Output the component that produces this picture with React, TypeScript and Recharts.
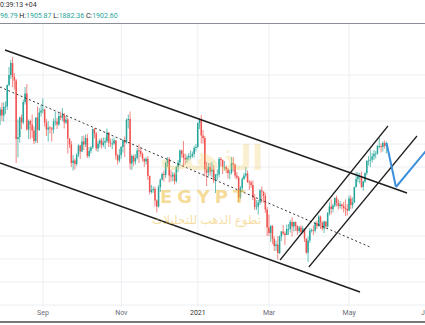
import { ComposedChart, Bar, XAxis, YAxis, CartesianGrid, ReferenceLine } from "recharts";

// daily XAUUSD bars, 29 Jul 2020 .. 1 Jun 2021 (open = previous close)
const firstOpen = 1958;

const closes = [
  // Jul
  1970, 1958, 1975,
  // Aug
  1976, 2019, 2039, 2063, 2035, 2028, 1911, 1915, 1954, 1944, 1985, 2002, 1930, 1947, 1940, 1928, 1907, 1954, 1929, 1964, 1968,
  // Sep
  1970, 1944, 1930, 1934, 1932, 1930, 1946, 1946, 1940, 1957, 1954, 1960, 1944, 1950, 1912, 1900, 1863, 1868, 1861, 1880, 1898, 1886,
  // Oct
  1906, 1900, 1913, 1877, 1887, 1894, 1931, 1922, 1892, 1902, 1908, 1899, 1904, 1907, 1924, 1904, 1902, 1902, 1908, 1878, 1868, 1879,
  // Nov
  1895, 1909, 1904, 1949, 1951, 1862, 1877, 1866, 1873, 1888, 1887, 1881, 1871, 1866, 1871, 1837, 1805, 1809, 1811, 1788, 1776,
  // Dec
  1815, 1830, 1841, 1839, 1863, 1871, 1838, 1836, 1840, 1827, 1855, 1864, 1888, 1881, 1873, 1870, 1874, 1877, 1877, 1881, 1893, 1895,
  // Jan
  1943, 1950, 1918, 1913, 1850, 1844, 1855, 1846, 1850, 1828, 1840, 1840, 1871, 1869, 1855, 1855, 1850, 1843, 1844, 1863,
  // Feb
  1860, 1838, 1834, 1794, 1813, 1831, 1838, 1842, 1825, 1824, 1819, 1794, 1775, 1776, 1784, 1808, 1806, 1797, 1770, 1734,
  // Mar
  1723, 1737, 1711, 1697, 1700, 1683, 1716, 1726, 1722, 1719, 1731, 1731, 1745, 1736, 1745, 1737, 1727, 1734, 1725, 1732, 1712, 1684, 1708,
  // Apr
  1728, 1729, 1728, 1743, 1737, 1756, 1744, 1732, 1746, 1736, 1763, 1776, 1771, 1778, 1793, 1783, 1777, 1780, 1777, 1773, 1771, 1768,
  // May + 1 Jun
  1792, 1779, 1784, 1815, 1831, 1836, 1837, 1815, 1826, 1843, 1867, 1868, 1870, 1876, 1881, 1882, 1897, 1897, 1895, 1903, 1897, 1903,
];

const highs = [
  1975, 1984, 1984,
  1986, 2020, 2055, 2069, 2075, 2043, 2031, 1950, 1956, 1960, 1990, 2015, 2021, 1950, 1950, 1960, 1936, 1954, 1976, 1973, 1979,
  1992, 1972, 1951, 1947, 1937, 1935, 1952, 1965, 1953, 1963, 1966, 1973, 1963, 1957, 1954, 1913, 1907, 1879, 1872, 1882, 1900, 1899,
  1917, 1918, 1920, 1921, 1895, 1897, 1932, 1933, 1925, 1908, 1912, 1913, 1914, 1914, 1932, 1924, 1912, 1912, 1914, 1909, 1881, 1891,
  1897, 1910, 1916, 1952, 1960, 1966, 1880, 1880, 1881, 1893, 1900, 1894, 1884, 1873, 1875, 1877, 1838, 1819, 1816, 1816, 1790,
  1819, 1832, 1844, 1848, 1866, 1875, 1875, 1849, 1845, 1844, 1857, 1869, 1890, 1890, 1907, 1882, 1879, 1883, 1888, 1886, 1897, 1901,
  1944, 1953, 1959, 1929, 1917, 1865, 1863, 1863, 1865, 1859, 1841, 1850, 1875, 1875, 1870, 1867, 1858, 1853, 1850, 1875,
  1875, 1861, 1845, 1837, 1817, 1835, 1843, 1855, 1848, 1829, 1828, 1828, 1801, 1789, 1789, 1811, 1816, 1806, 1803, 1775,
  1760, 1739, 1739, 1716, 1708, 1717, 1718, 1727, 1739, 1726, 1740, 1741, 1749, 1755, 1746, 1746, 1739, 1737, 1739, 1737, 1731, 1712, 1716,
  1733, 1732, 1738, 1746, 1748, 1759, 1758, 1746, 1748, 1746, 1765, 1784, 1790, 1782, 1794, 1798, 1790, 1787, 1782, 1785, 1790, 1781,
  1798, 1798, 1794, 1816, 1845, 1845, 1843, 1846, 1828, 1844, 1869, 1877, 1890, 1883, 1889, 1887, 1899, 1913, 1902, 1906, 1908, 1906,
];

const lows = [
  1939, 1947, 1946,
  1961, 1969, 2016, 2031, 2015, 2010, 1863, 1874, 1904, 1931, 1940, 1980, 1928, 1911, 1911, 1913, 1901, 1903, 1903, 1927, 1956,
  1962, 1936, 1917, 1906, 1922, 1906, 1922, 1938, 1931, 1937, 1949, 1947, 1932, 1941, 1882, 1893, 1855, 1848, 1850, 1857, 1875, 1871,
  1885, 1889, 1895, 1873, 1873, 1882, 1891, 1912, 1887, 1885, 1894, 1892, 1895, 1891, 1903, 1895, 1895, 1891, 1899, 1870, 1860, 1864,
  1872, 1884, 1875, 1902, 1932, 1850, 1849, 1857, 1860, 1870, 1863, 1875, 1866, 1855, 1860, 1829, 1800, 1802, 1803, 1776, 1764,
  1774, 1805, 1828, 1826, 1833, 1855, 1824, 1826, 1826, 1820, 1823, 1845, 1858, 1874, 1855, 1860, 1863, 1868, 1870, 1873, 1874, 1886,
  1893, 1931, 1902, 1902, 1836, 1817, 1836, 1838, 1834, 1823, 1803, 1828, 1834, 1856, 1841, 1848, 1843, 1832, 1831, 1840,
  1846, 1832, 1830, 1785, 1791, 1805, 1829, 1834, 1823, 1809, 1813, 1789, 1769, 1769, 1760, 1779, 1783, 1784, 1763, 1717,
  1717, 1705, 1701, 1687, 1687, 1670, 1681, 1707, 1719, 1699, 1719, 1719, 1724, 1716, 1726, 1727, 1719, 1723, 1722, 1722, 1705, 1681, 1665,
  1703, 1724, 1719, 1724, 1731, 1735, 1731, 1728, 1723, 1732, 1734, 1758, 1760, 1764, 1775, 1776, 1770, 1772, 1770, 1764, 1757, 1758,
  1767, 1771, 1772, 1783, 1814, 1824, 1822, 1813, 1808, 1823, 1839, 1858, 1855, 1864, 1869, 1872, 1880, 1892, 1884, 1886, 1892, 1882,
];

// bar index of the first bar of each labelled month
const monthTicks = [24, 68, 111, 151, 196, 239];
const monthLabels = ["Sep", "Nov", "2021", "Mar", "May", "Jul"];
const gridPrices = [2085, 2039, 1993, 1947, 1901, 1855, 1809, 1763, 1717, 1671, 1625, 1579];

// drawings, as [bar index, price]
const upperChannel = [[2.66, 2089], [228.5, 1803]];
const lowerChannel = [[-0.15, 1863], [202.1, 1605]];
const midLine = [[-0.15, 2015], [207.7, 1695]];
const riseUpper = [[157.2, 1669], [217.8, 1937]];
const riseLower = [[173.4, 1655], [234.1, 1917]];
const forecast = [[217, 1903], [222.3, 1815], [247, 1921]];

const UP = "#26a69a";
const DOWN = "#ef5350";

const candles = closes.map((close, i) => ({
  i,
  open: i === 0 ? firstOpen : closes[i - 1],
  close,
  high: highs[i],
  low: lows[i],
}));

const seg = (pts: number[][]) => pts.map(([x, y]) => ({ x, y }));

function Candle(props: any) {
  const { x, y, width, height, payload } = props;
  if (!payload || height == null) return null;
  const { open, close, high, low } = payload;
  const cx = x + width / 2;
  const k = high === low ? 0 : height / (high - low);
  const yo = y + (high - open) * k;
  const yc = y + (high - close) * k;
  const color = close >= open ? UP : DOWN;
  return (
    <g>
      <line x1={cx} x2={cx} y1={y} y2={y + height} stroke={color} strokeWidth={0.7} />
      <rect x={cx - 0.75} y={Math.min(yo, yc)} width={1.5} height={Math.max(Math.abs(yc - yo), 0.8)} fill={color} />
    </g>
  );
}

function MonthTick({ x, y, payload }: any) {
  const label = monthLabels[monthTicks.indexOf(payload.value)];
  return (
    <text x={x} y={y + 6} textAnchor="middle" dominantBaseline="central" fontSize={7}
      fontFamily="Roboto, sans-serif" fill={label === "2021" ? "#333" : "#6a6d78"}>
      {label}
    </text>
  );
}

const font = "Roboto, 'Open Sans', sans-serif";

export default function App() {
  return (
    <div style={{ position: "absolute", left: 0, top: 0, width: 425, height: 325, overflow: "hidden", background: "#fff" }}>
      <ComposedChart width={440} height={325} data={candles} margin={{ top: 24, right: 0, bottom: 0, left: 0 }}>
        <CartesianGrid stroke="#eceef2" horizontalValues={gridPrices} verticalValues={monthTicks} />
        <XAxis type="number" dataKey="i" domain={[-0.15, 247.04]} allowDataOverflow ticks={monthTicks}
          axisLine={false} tickLine={false} tickSize={0} tickMargin={0} height={18} tick={<MonthTick />} />
        <YAxis hide type="number" domain={[1575, 2141]} allowDataOverflow />
        <Bar dataKey={(d: any) => [d.low, d.high]} barSize={1.5} shape={<Candle />} isAnimationActive={false} />
        <ReferenceLine segment={seg(upperChannel)} stroke="#1e1e1e" strokeWidth={1.4} ifOverflow="hidden" />
        <ReferenceLine segment={seg(lowerChannel)} stroke="#1e1e1e" strokeWidth={1.4} ifOverflow="hidden" />
        <ReferenceLine segment={seg(midLine)} stroke="#333" strokeWidth={1} strokeDasharray="2 2.5" ifOverflow="hidden" />
        <ReferenceLine segment={seg(riseUpper)} stroke="#1e1e1e" strokeWidth={1.2} ifOverflow="hidden" />
        <ReferenceLine segment={seg(riseLower)} stroke="#1e1e1e" strokeWidth={1.2} ifOverflow="hidden" />
        <ReferenceLine segment={seg(forecast.slice(0, 2))} stroke="#3d8fdc" strokeWidth={2} ifOverflow="hidden" />
        <ReferenceLine segment={seg(forecast.slice(1, 3))} stroke="#3d8fdc" strokeWidth={2} ifOverflow="hidden" />
      </ComposedChart>

      {/* legend header, as much of it as the crop shows */}
      <div style={{ position: "absolute", left: 0, top: 1, fontFamily: font, fontSize: 7, color: "#333", whiteSpace: "nowrap", lineHeight: "8px" }}>
        0:39:13 +04
      </div>
      <div style={{ position: "absolute", left: 0, top: 12, fontFamily: font, fontSize: 7, color: "#222", whiteSpace: "nowrap", lineHeight: "8px" }}>
        <span style={{ color: UP }}>96.79</span> H:<span style={{ color: UP }}>1905.87</span> L:<span style={{ color: UP }}>1882.36</span> C:<span style={{ color: UP }}>1902.60</span>
      </div>
      <div style={{ position: "absolute", left: 0, top: 23, width: 425, height: 1, background: "#8a8d96" }} />
      <div style={{ position: "absolute", left: 0, top: 321, width: 425, height: 1.5, background: "#777" }} />

      {/* watermark */}
      <div style={{ position: "absolute", left: 160, top: 138, width: 100, textAlign: "center", fontFamily: "'DejaVu Sans', sans-serif", fontWeight: 700, fontSize: 34, color: "rgba(240,205,90,0.28)", whiteSpace: "nowrap" }}>
        الذهب
      </div>
      <div style={{ position: "absolute", left: 160, top: 186, fontFamily: "'DejaVu Sans', sans-serif", fontWeight: 700, fontSize: 18, letterSpacing: 5, color: "rgba(236,186,50,0.5)", whiteSpace: "nowrap" }}>
        EGYPT
      </div>
      <div style={{ position: "absolute", left: 152, top: 211, width: 104, textAlign: "center", fontFamily: "'Noto Sans', 'DejaVu Sans', sans-serif", fontSize: 12, color: "rgba(236,190,70,0.5)", whiteSpace: "nowrap" }}>
        تطوع الذهب للتحليلات
      </div>
    </div>
  );
}
